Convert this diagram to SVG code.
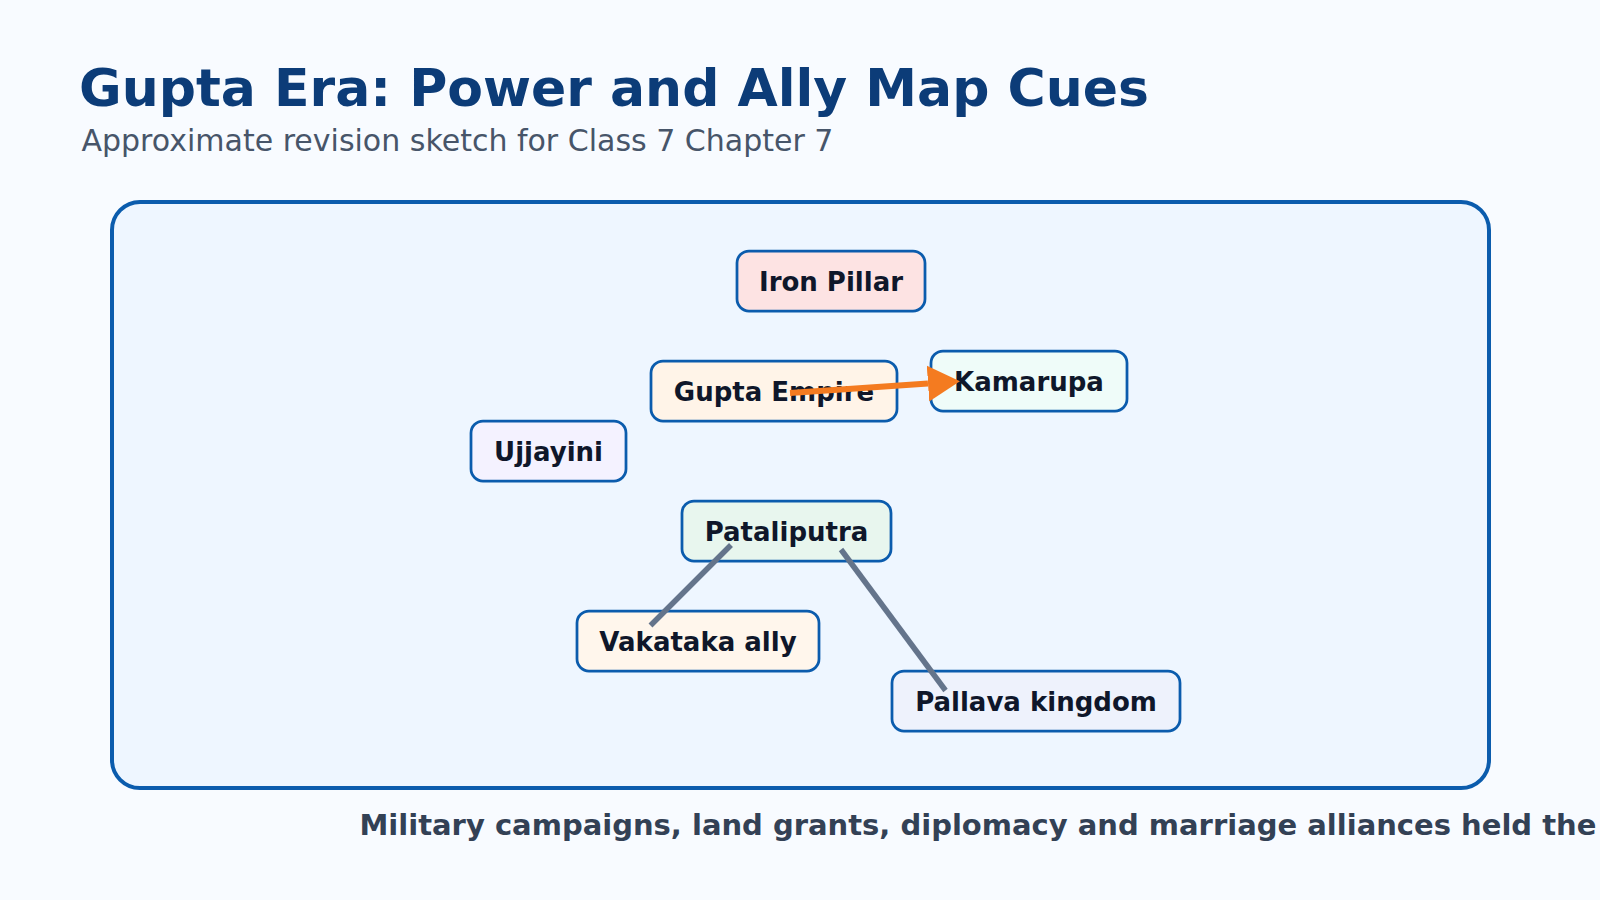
<svg xmlns="http://www.w3.org/2000/svg" width="1600" height="900" viewBox="0 0 1600 900">
  <style>
    .title { font-family: "DejaVu Sans", "Liberation Sans", sans-serif; font-weight: bold; font-size: 52px; fill: #0c3c78; }
    .subtitle { font-family: "DejaVu Sans", "Liberation Sans", sans-serif; font-size: 30px; fill: #475569; }
    .footer { font-family: "DejaVu Sans", "Liberation Sans", sans-serif; font-weight: bold; font-size: 29px; fill: #334155; }
    .frame { fill: #eef6ff; stroke: #0b5cad; stroke-width: 4; }
    .node rect { stroke: #0b5cad; stroke-width: 2.75; }
    .node text { font-family: "DejaVu Sans", "Liberation Sans", sans-serif; font-weight: bold; font-size: 26px; fill: #0f172a; text-anchor: middle; }
    .link { stroke: #64748b; stroke-width: 5.5; fill: none; }
    .arrow { stroke: #f47b20; stroke-width: 6; fill: none; }
  </style>
  <defs>
    <marker id="orangeHead" markerUnits="userSpaceOnUse" markerWidth="32" markerHeight="36" viewBox="0 0 32 36" refX="0" refY="18" orient="auto">
      <path d="M0,0 L32,18 L0,36 Z" fill="#f47b20"/>
    </marker>
  </defs>
  <rect x="0" y="0" width="1600" height="900" fill="#f8fbff"/>
  <text class="title" x="79" y="106">Gupta Era: Power and Ally Map Cues</text>
  <text class="subtitle" x="81.5" y="151">Approximate revision sketch for Class 7 Chapter 7</text>
  <rect class="frame" x="112" y="202" width="1377" height="586" rx="28" ry="28"/>

  <g id="node-iron-pillar" class="node">
    <rect x="737" y="251" width="188" height="60" rx="12" fill="#fde3e3"/>
    <text x="831" y="290.5">Iron Pillar</text>
  </g>
  <g id="node-gupta-empire" class="node">
    <rect x="651" y="361" width="246" height="60" rx="12" fill="#fff4e8"/>
    <text x="774" y="400.5">Gupta Empire</text>
  </g>
  <g id="node-kamarupa" class="node">
    <rect x="931" y="351" width="196" height="60" rx="12" fill="#effcf9"/>
    <text x="1029" y="390.5">Kamarupa</text>
  </g>
  <g id="node-ujjayini" class="node">
    <rect x="471" y="421" width="155" height="60" rx="12" fill="#f4f2ff"/>
    <text x="548.5" y="460.5">Ujjayini</text>
  </g>
  <g id="node-pataliputra" class="node">
    <rect x="682" y="501" width="209" height="60" rx="12" fill="#e8f6ee"/>
    <text x="786.5" y="540.5">Pataliputra</text>
  </g>
  <g id="node-vakataka" class="node">
    <rect x="577" y="611" width="242" height="60" rx="12" fill="#fff6ec"/>
    <text x="698" y="650.5">Vakataka ally</text>
  </g>
  <g id="node-pallava" class="node">
    <rect x="892" y="671" width="288" height="60" rx="12" fill="#eef2fc"/>
    <text x="1036" y="710.5">Pallava kingdom</text>
  </g>

  <g id="connectors">
    <line class="arrow" x1="790" y1="393" x2="928" y2="383.5" marker-end="url(#orangeHead)"/>
    <line class="link" x1="731" y1="545" x2="650.5" y2="625.5"/>
    <line class="link" x1="841" y1="549.5" x2="945.5" y2="690.5"/>
  </g>

  <text class="footer" x="359.5" y="835">Military campaigns, land grants, diplomacy and marriage alliances held the</text>
</svg>
